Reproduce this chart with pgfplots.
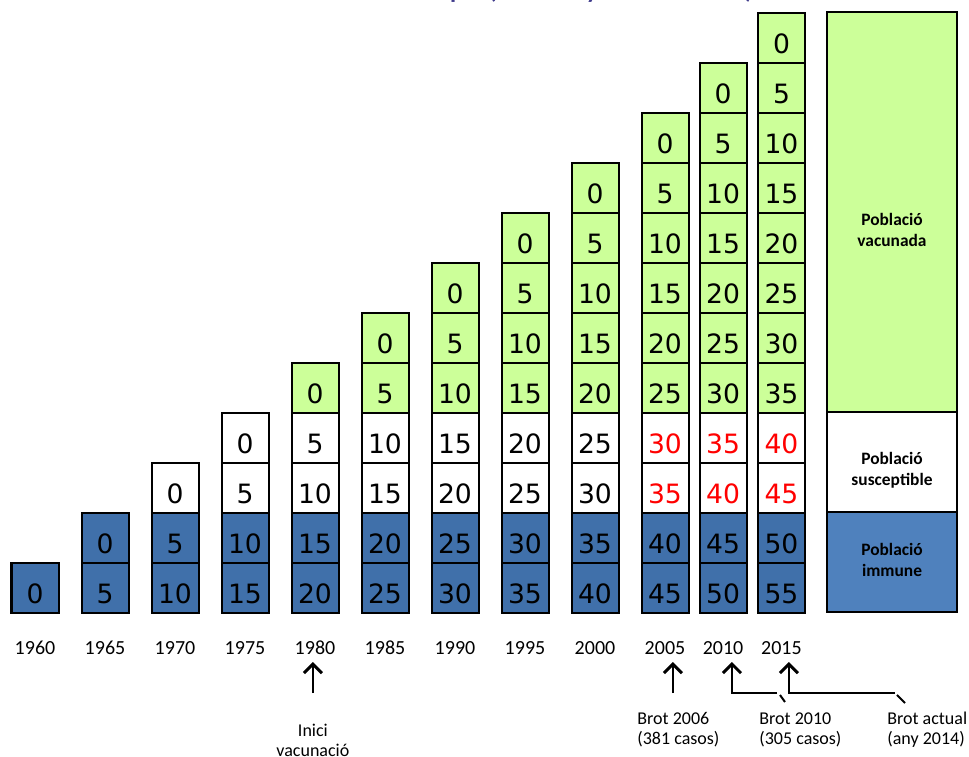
\documentclass[border=0pt]{standalone}
\usepackage{fontspec}
\setmainfont{Carlito}
\newfontfamily\dejavu{DejaVu Sans}
\usepackage{pgfplots}
\pgfplotsset{compat=1.18}
\usetikzlibrary{arrows.meta}
\definecolor{cellblue}{RGB}{64,112,170}
\definecolor{legblue}{RGB}{79,129,189}
\definecolor{cellgreen}{RGB}{204,255,153}
\definecolor{titlepurple}{RGB}{64,60,140}
\definecolor{susred}{RGB}{255,0,0}
\pgfdeclareplotmark{cell}{\pgfpathrectangle{\pgfpoint{-11.75pt}{-12.5pt}}{\pgfpoint{23.5pt}{25pt}}\pgfusepathqfillstroke}
\pgfplotsset{
  cells/.style={only marks, mark=cell, point meta=explicit symbolic,
    mark options={fill=#1, draw=black, line width=1pt},
    nodes near coords,
    nodes near coords style={anchor=center, yshift=-1.5pt, font=\dejavu\fontsize{13.3}{13}\selectfont}},
}
\begin{document}
\begin{tikzpicture}
\path[use as bounding box] (0,0) rectangle (484.5pt,378pt);
\clip (0,0) rectangle (484.5pt,378pt);
\begin{axis}[at={(0,0)}, anchor=south west, scale only axis,
  width=484.5pt, height=378pt,
  xmin=-0.5, xmax=13.3429, ymin=-2.86, ymax=12.26, clip=false,
  axis line style={draw=none}, tick style={draw=none}, ytick=\empty,
  xtick={0,1,2,3,4,5,6,7,8,9,9.829,10.664},
  xticklabels={1960,1965,1970,1975,1980,1985,1990,1995,2000,2005,2010,2015},
  xticklabel style={anchor=base, yshift=51pt, font=\fontsize{10}{10}\selectfont},
]
% Població immune (blue)
\addplot[cells=cellblue, nodes near coords style={text=black}] coordinates {
 (0,0.5) [0]
 (1,0.5) [5]  (1,1.5) [0]
 (2,0.5) [10] (2,1.5) [5]
 (3,0.5) [15] (3,1.5) [10]
 (4,0.5) [20] (4,1.5) [15]
 (5,0.5) [25] (5,1.5) [20]
 (6,0.5) [30] (6,1.5) [25]
 (7,0.5) [35] (7,1.5) [30]
 (8,0.5) [40] (8,1.5) [35]
 (9,0.5) [45] (9,1.5) [40]
 (9.829,0.5) [50] (9.829,1.5) [45]
 (10.664,0.5) [55] (10.664,1.5) [50]
};
% Població susceptible (white)
\addplot[cells=white, nodes near coords style={text=black}] coordinates {
 (2,2.5) [0]
 (3,2.5) [5]  (3,3.5) [0]
 (4,2.5) [10] (4,3.5) [5]
 (5,2.5) [15] (5,3.5) [10]
 (6,2.5) [20] (6,3.5) [15]
 (7,2.5) [25] (7,3.5) [20]
 (8,2.5) [30] (8,3.5) [25]
};
\addplot[cells=white, nodes near coords style={text=susred}] coordinates {
 (9,2.5) [35] (9,3.5) [30]
 (9.829,2.5) [40] (9.829,3.5) [35]
 (10.664,2.5) [45] (10.664,3.5) [40]
};
% Població vacunada (green)
\addplot[cells=cellgreen, nodes near coords style={text=black}] coordinates {
 (4,4.5) [0]
 (5,4.5) [5]  (5,5.5) [0]
 (6,4.5) [10] (6,5.5) [5]  (6,6.5) [0]
 (7,4.5) [15] (7,5.5) [10] (7,6.5) [5]  (7,7.5) [0]
 (8,4.5) [20] (8,5.5) [15] (8,6.5) [10] (8,7.5) [5]  (8,8.5) [0]
 (9,4.5) [25] (9,5.5) [20] (9,6.5) [15] (9,7.5) [10] (9,8.5) [5] (9,9.5) [0]
 (9.829,4.5) [30] (9.829,5.5) [25] (9.829,6.5) [20] (9.829,7.5) [15] (9.829,8.5) [10] (9.829,9.5) [5] (9.829,10.5) [0]
 (10.664,4.5) [35] (10.664,5.5) [30] (10.664,6.5) [25] (10.664,7.5) [20] (10.664,8.5) [15] (10.664,9.5) [10] (10.664,10.5) [5] (10.664,11.5) [0]
};
% legend column
\addplot[fill=legblue, draw=black, line width=1pt, mark=none] coordinates {(11.314,0.02) (13.171,0.02) (13.171,2.02) (11.314,2.02)} -- cycle;
\addplot[fill=white, draw=black, line width=1pt, mark=none] coordinates {(11.314,2.02) (13.171,2.02) (13.171,4.02) (11.314,4.02)} -- cycle;
\addplot[fill=cellgreen, draw=black, line width=1pt, mark=none] coordinates {(11.314,4.02) (13.171,4.02) (13.171,12.02) (11.314,12.02)} -- cycle;
\node[font=\bfseries\fontsize{8.7}{10.5}\selectfont, align=center] at (axis cs:12.243,7.66) {Població\\vacunada};
\node[font=\bfseries\fontsize{8.7}{10.5}\selectfont, align=center] at (axis cs:12.243,2.86) {Població\\susceptible};
\node[font=\bfseries\fontsize{8.7}{10.5}\selectfont, align=center] at (axis cs:12.243,1.06) {Població\\immune};
% title (cut off at the top)
\node[anchor=base east, text=titlepurple, font=\bfseries\fontsize{12.5}{14}\selectfont] at (axis cs:10.36,12.28) {Cobertura del xarampió (edat i any de naixement)};
% arrows
\tikzset{ann/.style={line width=1pt, -{Straight Barb[length=4.5pt,width=9pt,line width=1.5pt]}}}
\draw[ann] (axis cs:3.97,-1.6) -- (axis cs:3.97,-0.98);
\draw[ann] (axis cs:9.114,-1.6) -- (axis cs:9.114,-0.98);
\draw[ann] (axis cs:10.6,-1.6) -- (axis cs:9.957,-1.6) -- (axis cs:9.957,-0.98);
\draw[line width=1pt] (axis cs:10.643,-1.64) -- (axis cs:10.714,-1.78);
\draw[ann] (axis cs:12.286,-1.6) -- (axis cs:10.771,-1.6) -- (axis cs:10.771,-0.98);
\draw[line width=1pt] (axis cs:12.314,-1.64) -- (axis cs:12.429,-1.8);
% annotation texts
\node[font=\fontsize{9}{10}\selectfont, align=center] at (axis cs:3.97,-2.55) {Inici\\vacunació};
\node[font=\fontsize{9}{10}\selectfont, align=left, anchor=west, inner sep=0pt] at (axis cs:8.6,-2.34) {Brot 2006\\(381 casos)};
\node[font=\fontsize{9}{10}\selectfont, align=left, anchor=west, inner sep=0pt] at (axis cs:10.343,-2.34) {Brot 2010\\(305 casos)};
\node[font=\fontsize{9}{10}\selectfont, align=left, anchor=west, inner sep=0pt] at (axis cs:12.171,-2.34) {Brot actual\\(any 2014)};
\end{axis}
\end{tikzpicture}
\end{document}
